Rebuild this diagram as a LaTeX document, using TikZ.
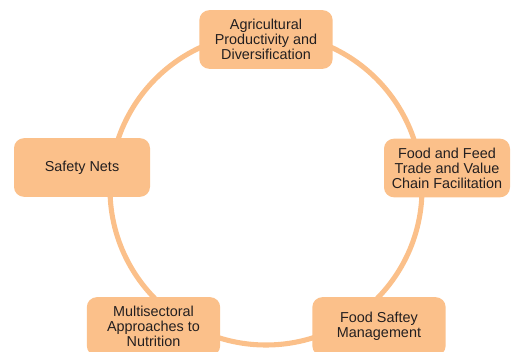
\documentclass[tikz,border=0pt]{standalone}
\usepackage{fontspec}
\setmainfont{Liberation Sans}
\usepackage{xcolor}
\usepackage{tikz}
\definecolor{durazno}{RGB}{251, 192, 138}
\definecolor{tinta}{RGB}{35, 31, 32}

\begin{document}
\begin{tikzpicture}[
    x=0.75pt, y=-0.75pt,
    block/.style={rectangle, fill=durazno, draw=none, minimum width=100pt,
                  minimum height=44pt, align=center, rounded corners=7.5pt,
                  inner sep=0pt, text=tinta,
                  font=\fontsize{10.8}{11.3}\selectfont},
    ring/.style={durazno, line width=3.8pt}
]
\clip (0,0) rectangle (512,351);
\useasboundingbox (0,0) rectangle (512,351);
\coordinate (hub) at (266,189);
\draw [ring] (hub) circle [radius=117pt];
\node (agri) [block] at (266,39.5) {Agricultural\\Productivity and\\Diversification};
\node (trade) [block, minimum width=94.5pt] at (447,168) {Food and Feed\\Trade and Value\\Chain Facilitation};
\node (safe) [block, minimum width=102pt] at (82,167.5) {Safety Nets};
\node (multi) [block] at (153.5,326.5) {Multisectoral\\Approaches to\\Nutrition};
\node (fsm) [block] at (379,326.5) {Food Saftey\\Management};
\end{tikzpicture}
\end{document}
